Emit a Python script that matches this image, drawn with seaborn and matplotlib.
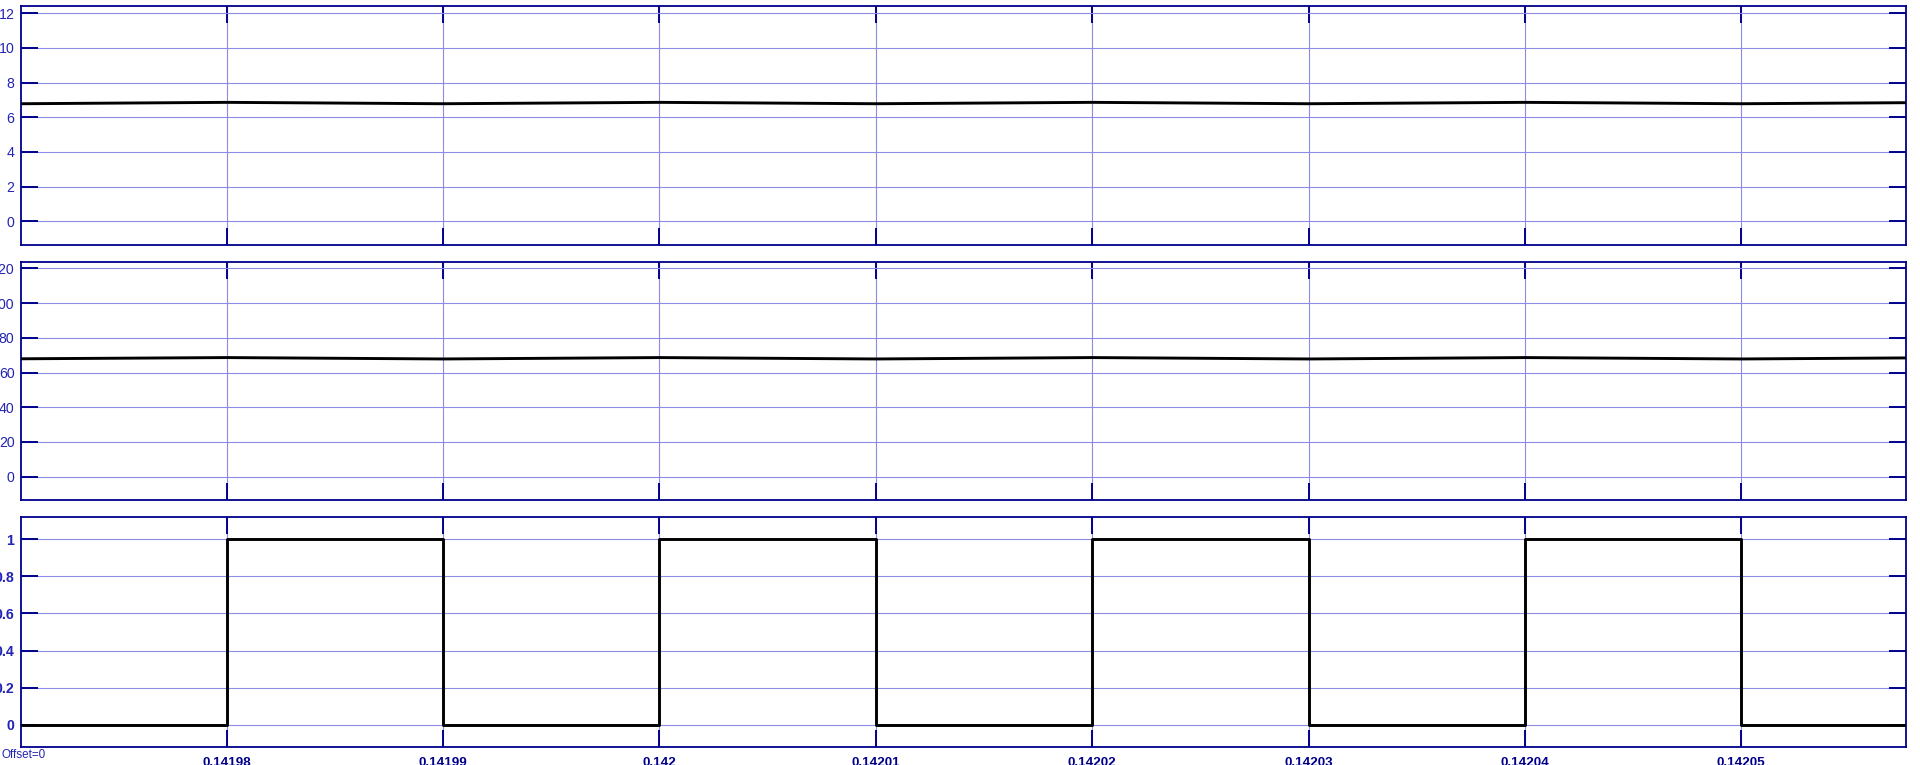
import numpy as np
import pandas as pd
import matplotlib
matplotlib.use("Agg")
import matplotlib.pyplot as plt
import seaborn as sns

# ---- data ----
# triangular ripple corner points (time, value)
ripple_time = [0.1419705, 0.14198, 0.14199, 0.14200, 0.14201, 0.14202,
               0.14203, 0.14204, 0.14205, 0.1420576]
v_low = [6.78, 6.86, 6.78, 6.86, 6.78, 6.86, 6.78, 6.86, 6.78, 6.84]
v_high = [67.9, 68.6, 67.8, 68.6, 67.8, 68.6, 67.8, 68.6, 67.8, 68.4]

gate_time = [0.1419705, 0.14198, 0.14199, 0.14200, 0.14201, 0.14202,
             0.14203, 0.14204, 0.14205, 0.1420576]
gate = [0, 1, 0, 1, 0, 1, 0, 1, 0, 0]

xticks = [0.14198, 0.14199, 0.14200, 0.14201, 0.14202, 0.14203, 0.14204, 0.14205]
xtick_labels = ["0.14198", "0.14199", "0.142", "0.14201", "0.14202",
                "0.14203", "0.14204", "0.14205"]
yticks_top = [0, 2, 4, 6, 8, 10, 12]
yticks_mid = [0, 20, 40, 60, 80, 100, 120]
yticks_bot = [0, 0.2, 0.4, 0.6, 0.8, 1]
ytick_labels_bot = ["0", "0.2", "0.4", "0.6", "0.8", "1"]

# ---- style ----
sns.set_theme(style="white")
plt.rcParams['font.family'] = ['Liberation Sans', 'DejaVu Sans']

SPINE = '#00008c'
GRID = '#8c8ce6'
LABEL = '#2323b4'
DPI = 100
W, H = 1920, 765

fig = plt.figure(figsize=(W / DPI, H / DPI), dpi=DPI)
fig.patch.set_facecolor('white')

left = 20.7 / W
width = (1906 - 20.7) / W

def mk_axes(top_px, bot_px):
    return fig.add_axes([left, 1 - bot_px / H, width, (bot_px - top_px) / H])

ax1 = mk_axes(6.3, 245.3)
ax2 = mk_axes(261.7, 500.0)
ax3 = mk_axes(516.7, 747.0)

xlim = (0.14197048, 0.14205761)

df1 = pd.DataFrame({"t": ripple_time, "v": v_low})
df2 = pd.DataFrame({"t": ripple_time, "v": v_high})
df3 = pd.DataFrame({"t": gate_time, "g": gate})

sns.lineplot(data=df1, x="t", y="v", ax=ax1, color='black', lw=2.1,
             estimator=None, sort=False, zorder=5)
sns.lineplot(data=df2, x="t", y="v", ax=ax2, color='black', lw=2.1,
             estimator=None, sort=False, zorder=5)
sns.lineplot(data=df3, x="t", y="g", ax=ax3, color='black', lw=2.1,
             estimator=None, sort=False, drawstyle='steps-post', zorder=5)

setups = [
    (ax1, (-1.385, 12.40), yticks_top, [str(v) for v in yticks_top], 'normal'),
    (ax2, (-13.4, 123.8), yticks_mid, [str(v) for v in yticks_mid], 'normal'),
    (ax3, (-0.120, 1.122), yticks_bot, ytick_labels_bot, 'bold'),
]

for ax, ylim, yt, ytl, weight in setups:
    ax.set_facecolor('white')
    ax.set_xlim(*xlim)
    ax.set_ylim(*ylim)
    ax.set_xlabel("")
    ax.set_ylabel("")
    ax.set_xticks(xticks)
    ax.set_yticks(yt)
    ax.set_yticklabels(ytl, fontsize=10.2, color=LABEL, fontweight=weight)
    ax.grid(True, color=GRID, lw=0.8, zorder=0)
    ax.set_axisbelow(True)
    for s in ax.spines.values():
        s.set_color(SPINE)
        s.set_linewidth(1.3)
        s.set_visible(True)
    ax.tick_params(axis='both', which='major', direction='in', length=12.2,
                   width=1.4, color=SPINE, top=True, right=True,
                   bottom=True, left=True)
    ax.tick_params(axis='y', pad=4.5)
    ax.tick_params(axis='x', pad=7.5)
    if ax is not ax3:
        ax.set_xticklabels([])

ax3.set_xticklabels(xtick_labels, fontsize=9.7, color=SPINE, fontweight='bold')

fig.text(1.5 / W, 1 - 755.5 / H, "Offset=0", fontsize=8.4, color=LABEL,
         ha='left', va='center')

fig.savefig("out.png", dpi=DPI, facecolor='white')
